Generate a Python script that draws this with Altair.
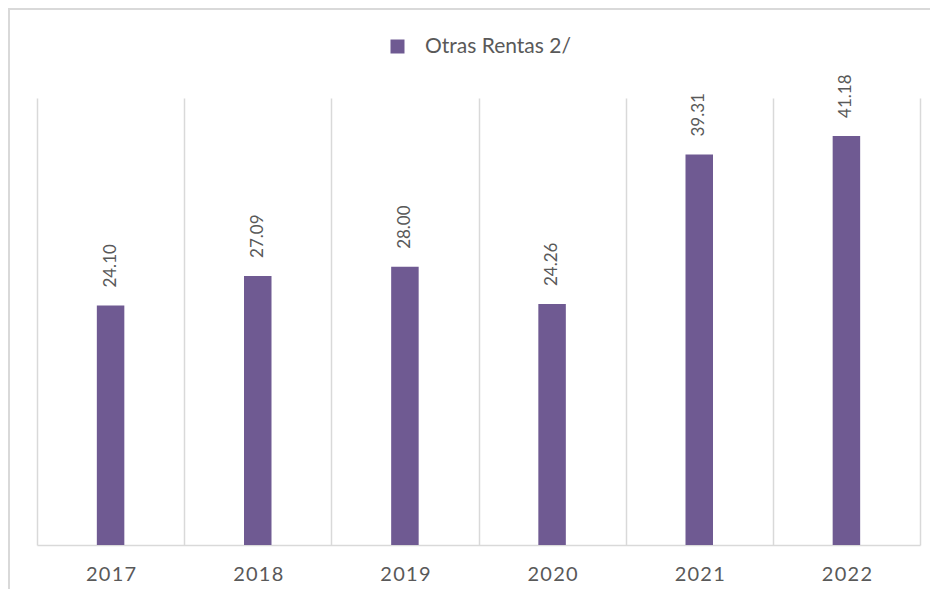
import altair as alt
import pandas as pd

years = ["2017", "2018", "2019", "2020", "2021", "2022"]
values = [24.10, 27.09, 28.00, 24.26, 39.31, 41.18]
series_name = "Otras Rentas 2/"

df = pd.DataFrame({"year": years, "value": values, "series": [series_name] * len(years)})
df["label"] = [f"{v:.2f}" for v in values]

W, H = 883, 447
BAR = "#6F5A92"
TXT = "#595959"
GRID = "#D9D9D9"
FONT = "Lato"

x = alt.X("year:N", sort=years, title=None,
          scale=alt.Scale(paddingInner=0, paddingOuter=0),
          axis=alt.Axis(labelAngle=0, ticks=False, grid=True, tickBand="extent",
                        gridColor=GRID, gridWidth=1.5, domainColor=GRID, domainWidth=1.5,
                        labelColor=TXT, labelFontSize=20, labelFont=FONT, labelPadding=19,
                        labelExpr="join(split(datum.label, ''), '\u200a')"))
y = alt.Y("value:Q", scale=alt.Scale(domain=[0, 45]), axis=None)

base = alt.Chart(df)

bars = base.mark_bar(size=27.5).encode(
    x=x, y=y,
    color=alt.Color("series:N", scale=alt.Scale(range=[BAR]),
                    legend=alt.Legend(title=None, orient="none", legendX=350, legendY=-62,
                                      symbolType="square", symbolSize=196, symbolStrokeWidth=0,
                                      labelFont=FONT, labelFontSize=21, labelColor=TXT,
                                      labelOffset=17, padding=0)),
)

labels = base.mark_text(angle=270, align="left", baseline="middle", dx=18,
                        font=FONT, fontSize=17, color=TXT).encode(
    x=alt.X("year:N", sort=years), y="value:Q", text="label:N")

frame = alt.Chart(pd.DataFrame({"a": [0]})).mark_rect(
    filled=False, stroke=GRID, strokeWidth=2).encode(
    x=alt.value(-28), x2=alt.value(W + 200), y=alt.value(-89), y2=alt.value(H + 200))

chart = alt.layer(frame, bars, labels).properties(
    width=W, height=H,
    autosize=alt.AutoSizeParams(type="none"),
    padding={"left": 29, "top": 90, "right": 10, "bottom": 44},
).configure_view(stroke=None)

chart.save("out.html", embed_options={"renderer": "svg", "actions": False})
